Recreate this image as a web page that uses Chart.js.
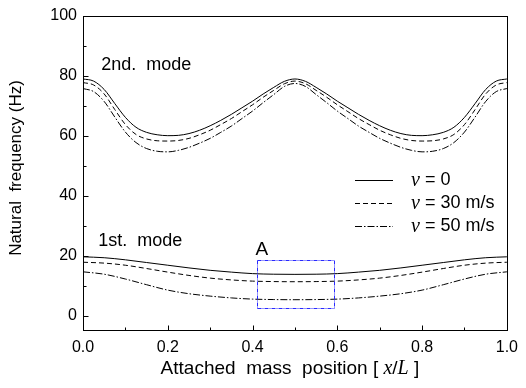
<!DOCTYPE html>
<html><head><meta charset="utf-8">
<script src="https://cdn.jsdelivr.net/npm/chart.js@4/dist/chart.umd.min.js"></script>
<style>html,body{margin:0;padding:0;background:#fff}#wrap{width:526px;height:388px}</style>
</head><body><div id="wrap"><canvas id="c" width="526" height="388"></canvas></div>
<script>
// x positions (attached mass position x/L)
const x2 = [0,0.025,0.05,0.075,0.1,0.125,0.15,0.175,0.2,0.225,0.25,0.275,0.3,0.325,0.35,0.375,0.4,0.425,0.45,0.475,0.5,
            0.525,0.55,0.575,0.6,0.625,0.65,0.675,0.7,0.725,0.75,0.775,0.8,0.825,0.85,0.875,0.9,0.925,0.95,0.975,1.0];
// 2nd mode natural frequency (Hz)
const mode2_v0  = [79.0,78.3,75.5,70.8,66.2,62.9,61.2,60.4,60.1,60.2,60.8,61.9,63.4,65.2,67.2,69.4,71.6,74.0,76.2,78.2,79.0,
                   78.2,76.2,74.0,71.6,69.4,67.2,65.2,63.4,61.9,60.8,60.2,60.1,60.4,61.2,62.9,66.2,70.8,75.5,78.3,79.0];
const mode2_v30 = [77.8,77.0,74.0,68.8,63.8,60.5,59.0,58.4,58.3,58.5,59.2,60.4,61.9,63.8,65.8,68.1,70.4,72.9,75.2,77.4,78.3,
                   77.4,75.2,72.9,70.4,68.1,65.8,63.8,61.9,60.4,59.2,58.5,58.3,58.4,59.0,60.5,63.8,68.8,74.0,77.0,77.8];
const mode2_v50 = [75.8,74.8,71.5,66.3,61.3,57.8,55.8,54.9,54.7,55.2,56.2,57.6,59.2,61.2,63.3,65.8,68.3,71.1,73.8,76.5,77.5,
                   76.5,73.8,71.1,68.3,65.8,63.3,61.2,59.2,57.6,56.2,55.2,54.7,54.9,55.8,57.8,61.3,66.3,71.5,74.8,75.8];
const x1 = [0,0.05,0.1,0.15,0.2,0.25,0.3,0.35,0.4,0.45,0.5,0.55,0.6,0.65,0.7,0.75,0.8,0.85,0.9,0.95,1.0];
// 1st mode natural frequency (Hz)
const mode1_v0  = [19.7,19.4,18.7,17.8,16.9,16.0,15.2,14.6,14.1,13.9,13.85,13.9,14.1,14.6,15.2,16.0,16.9,17.8,18.7,19.4,19.7];
const mode1_v30 = [17.9,17.6,16.9,15.8,14.6,13.5,12.6,12.0,11.6,11.45,11.4,11.45,11.6,12.0,12.6,13.5,14.6,15.8,16.9,17.6,17.9];
const mode1_v50 = [14.7,13.9,12.3,10.4,8.6,7.4,6.6,6.0,5.6,5.45,5.4,5.45,5.6,6.0,6.6,7.4,8.6,10.4,12.3,13.9,14.7];

const seriesLabels = ["= 0", "= 30 m/s", "= 50 m/s"];
const xMajorTicks = [0,0.2,0.4,0.6,0.8,1.0];
const xMinorTicks = [0.1,0.3,0.5,0.7,0.9];
const yMajorTicks = [0,20,40,60,80,100];
const yMinorTicks = [10,30,50,70,90];
const modeLabels = [{text:"2nd.  mode", x:0.043, y:83.7}, {text:"1st.  mode", x:0.036, y:24.9}];
const regionA = {label:"A", x0:0.41, x1:0.593, y0:2.8, y1:18.6};

const dashes = [[], [5,3], [7,2,1.5,2]];
function pts(xs, ys){ return xs.map((x,i)=>({x:x, y:ys[i]})); }
function ds(xs, ys, k, legend){
  return {data: pts(xs, ys), borderColor:'#000', borderWidth:1, borderDash:dashes[k],
          pointRadius:0, fill:false, cubicInterpolationMode:'monotone', legendIndex: legend ? k : -1};
}
const FONT = '"Liberation Sans", Arial, sans-serif';

const decor = {
  id:'decor',
  afterDraw(chart){
    const ctx = chart.ctx, a = chart.chartArea, xs = chart.scales.x, ys = chart.scales.y;
    ctx.save();
    ctx.strokeStyle = '#000'; ctx.lineWidth = 1; ctx.setLineDash([]);
    ctx.strokeRect(Math.round(a.left)+0.5, Math.round(a.top)+0.5, Math.round(a.right-a.left), Math.round(a.bottom-a.top));
    ctx.beginPath();
    const b = Math.round(a.bottom)+0.5, l = Math.round(a.left)+0.5;
    xMajorTicks.forEach(v=>{const p=Math.round(xs.getPixelForValue(v))+0.5; ctx.moveTo(p,b); ctx.lineTo(p,b-5);});
    xMinorTicks.forEach(v=>{const p=Math.round(xs.getPixelForValue(v))+0.5; ctx.moveTo(p,b); ctx.lineTo(p,b-3);});
    yMajorTicks.forEach(v=>{const p=Math.round(ys.getPixelForValue(v))+0.5; ctx.moveTo(l,p); ctx.lineTo(l+5,p);});
    yMinorTicks.forEach(v=>{const p=Math.round(ys.getPixelForValue(v))+0.5; ctx.moveTo(l,p); ctx.lineTo(l+3,p);});
    ctx.stroke();

    // mode labels
    ctx.fillStyle = '#000'; ctx.font = '18px ' + FONT; ctx.textBaseline = 'middle'; ctx.textAlign = 'left';
    modeLabels.forEach(m=>ctx.fillText(m.text, xs.getPixelForValue(m.x), ys.getPixelForValue(m.y)));

    // region A (each side drawn separately)
    const rx0 = Math.round(xs.getPixelForValue(regionA.x0))+0.5, rx1 = Math.round(xs.getPixelForValue(regionA.x1))+0.5;
    const ry0 = Math.round(ys.getPixelForValue(regionA.y0))+0.5, ry1 = Math.round(ys.getPixelForValue(regionA.y1))+0.5;
    ctx.strokeStyle = '#2a2aff'; ctx.lineWidth = 1;
    [[rx0,ry1,rx1,ry1],[rx1,ry1,rx1,ry0],[rx0,ry0,rx1,ry0],[rx0,ry1,rx0,ry0]].forEach(s=>{
      ctx.setLineDash([4,1,1,1]);
      ctx.beginPath(); ctx.moveTo(s[0],s[1]); ctx.lineTo(s[2],s[3]); ctx.stroke();
    });
    ctx.setLineDash([]);
    ctx.font = '19px ' + FONT; ctx.fillStyle = '#000'; ctx.textBaseline = 'alphabetic';
    ctx.fillText(regionA.label, rx0 - 2, ry1 - 6);

    // legend
    const lx0 = a.left + 272, lx1 = a.left + 310, tx = a.left + 328;
    const rowY = [ys.getPixelForValue(45.4), ys.getPixelForValue(37.5), ys.getPixelForValue(30.1)];
    chart.data.datasets.forEach(d=>{
      if (d.legendIndex < 0) return;
      const k = d.legendIndex, y = Math.round(rowY[k]) + 0.5;
      ctx.strokeStyle = '#000'; ctx.lineWidth = 1; ctx.setLineDash(d.borderDash);
      ctx.beginPath(); ctx.moveTo(lx0, y); ctx.lineTo(lx1, y); ctx.stroke();
      ctx.setLineDash([]);
      ctx.textBaseline = 'middle';
      ctx.font = 'italic 20px "Liberation Serif", "Times New Roman", serif';
      ctx.fillText('v', tx, y);
      const w = ctx.measureText('v').width;
      ctx.font = '18px ' + FONT;
      ctx.fillText(' ' + seriesLabels[k], tx + w, y);
    });

    // x-axis title with italic x/L
    const parts = [['Attached  mass  position [ ', '19px ' + FONT], ['x', 'italic 20px "Liberation Serif", serif'],
                   ['/', '19px ' + FONT], ['L', 'italic 20px "Liberation Serif", serif'], [' ]', '19px ' + FONT]];
    let tot = 0; parts.forEach(p=>{ctx.font = p[1]; tot += ctx.measureText(p[0]).width;});
    let cx = (a.left + a.right)/2 - 5 - tot/2; const ty = 369;
    ctx.textBaseline = 'middle'; ctx.textAlign = 'left';
    parts.forEach(p=>{ctx.font = p[1]; ctx.fillText(p[0], cx, ty); cx += ctx.measureText(p[0]).width;});

    // y-axis title
    ctx.save();
    ctx.translate(16, (a.top + a.bottom)/2 - 5);
    ctx.rotate(-Math.PI/2);
    ctx.font = '17px ' + FONT; ctx.textAlign = 'center'; ctx.textBaseline = 'middle';
    ctx.fillText('Natural  frequency (Hz)', 0, 0);
    ctx.restore();
    ctx.restore();
  }
};

new Chart(document.getElementById('c'), {
  type:'line',
  data:{datasets:[
    ds(x2, mode2_v0, 0, true), ds(x2, mode2_v30, 1, true), ds(x2, mode2_v50, 2, true),
    ds(x1, mode1_v0, 0, false), ds(x1, mode1_v30, 1, false), ds(x1, mode1_v50, 2, false)
  ]},
  options:{
    responsive:false, animation:false, devicePixelRatio:1,
    layout:{padding:{top:16, right:14, left:0, bottom:0}},
    plugins:{legend:{display:false}, tooltip:{enabled:false}},
    scales:{
      x:{type:'linear', min:0, max:1,
         grid:{display:false, drawTicks:false}, border:{display:false},
         afterBuildTicks(s){ s.ticks = xMajorTicks.map(v=>({value:v})); },
         afterFit(s){ s.height = 58; },
         ticks:{color:'#000', font:{family:FONT, size:16}, padding:8, maxRotation:0,
                callback:(v)=>Number(v).toFixed(1)}},
      y:{type:'linear', min:-4.7, max:100,
         grid:{display:false, drawTicks:false}, border:{display:false},
         afterBuildTicks(s){ s.ticks = yMajorTicks.map(v=>({value:v})); },
         afterFit(s){ s.width = 83; },
         ticks:{color:'#000', font:{family:FONT, size:16}, padding:6}}
    }
  },
  plugins:[decor]
});
</script></body></html>
